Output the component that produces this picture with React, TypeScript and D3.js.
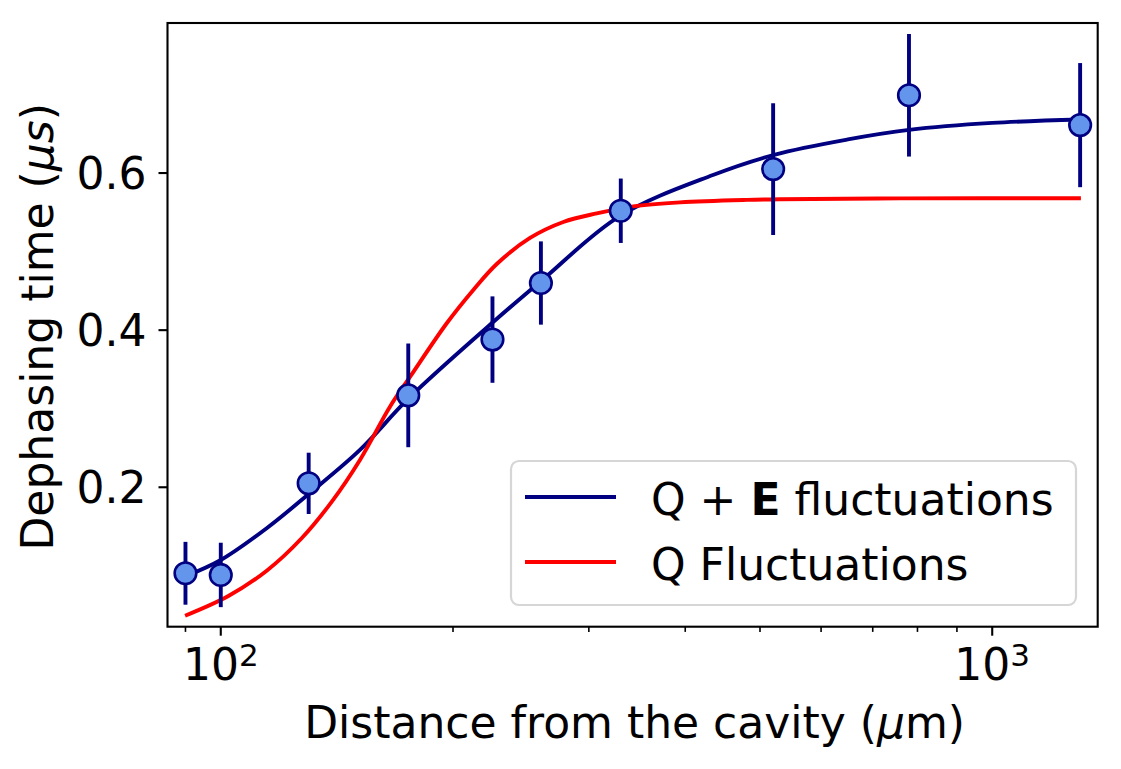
import React, { useEffect, useRef } from 'react';
import * as d3 from 'd3';

// measured points (distance in µm, dephasing time in µs)
const distances = [90, 100, 130, 175, 225, 260, 330, 520, 780, 1300];
const dephasing = [0.0905, 0.0884, 0.205, 0.317, 0.388, 0.460, 0.552, 0.605, 0.699, 0.661];
const errors = [0.040, 0.041, 0.039, 0.066, 0.055, 0.053, 0.041, 0.084, 0.078, 0.079];

// Q + E fluctuations fit
const fitQEx = [90.2, 100, 114.8, 130.5, 151.5, 175.4, 225.5, 260.2, 329.3, 434.5, 523, 650, 780, 1000, 1300];
const fitQEy = [0.0871, 0.1074, 0.1482, 0.1928, 0.2475, 0.3137, 0.4104, 0.4626, 0.5454, 0.5975, 0.6235, 0.6428, 0.6549, 0.6638, 0.6682];

// Q fluctuations only
const fitQx = [89.9, 102.3, 114.7, 127.3, 139.3, 151.5, 165.7, 176, 196.3, 212.5, 227.9, 251.7, 278, 307.1, 342.5, 393.8, 480.6, 530.8, 760, 1303];
const fitQy = [0.0365, 0.0616, 0.0938, 0.1351, 0.1817, 0.2348, 0.3026, 0.3408, 0.4088, 0.4512, 0.4842, 0.5174, 0.5377, 0.5486, 0.5575, 0.5626, 0.5658, 0.5666, 0.5677, 0.5679];

const yTicks = [0.2, 0.4, 0.6];
const xMajorTicks = [100, 1000];
const xMinorTicks = [90, 200, 300, 400, 500, 600, 700, 800, 900];

const legendLabels = ['Q + ', 'E', ' fluctuations'];
const legendLabel2 = 'Q Fluctuations';

const NAVY = '#000080';
const RED = '#ff0000';
const FONT = '"DejaVu Sans", sans-serif';

const DephasingChart: React.FC = () => {
  const ref = useRef<SVGSVGElement | null>(null);
  const width = 1121;
  const height = 769;
  const margin = { left: 167.5, right: 1097.7, top: 23, bottom: 626.7 };

  useEffect(() => {
    if (!ref.current) return;
    const svg = d3.select(ref.current).html('');

    const x = d3.scaleLog().domain([85.3, 1370]).range([margin.left, margin.right]);
    const y = d3.scaleLinear().domain([0.0225, 0.791]).range([margin.bottom, margin.top]);

    const line = d3
      .line<[number, number]>()
      .x((d) => x(d[0]))
      .y((d) => y(d[1]))
      .curve(d3.curveCatmullRom.alpha(0.5));

    const qe = fitQEx.map((v, i) => [v, fitQEy[i]] as [number, number]);
    const q = fitQx.map((v, i) => [v, fitQy[i]] as [number, number]);

    svg.append('path').attr('d', line(qe)!).attr('fill', 'none').attr('stroke', NAVY).attr('stroke-width', 3.9);
    svg.append('path').attr('d', line(q)!).attr('fill', 'none').attr('stroke', RED).attr('stroke-width', 3.9);

    // error bars
    svg
      .selectAll('.err')
      .data(distances)
      .enter()
      .append('line')
      .attr('x1', (d) => x(d))
      .attr('x2', (d) => x(d))
      .attr('y1', (_, i) => y(dephasing[i] - errors[i]))
      .attr('y2', (_, i) => y(dephasing[i] + errors[i]))
      .attr('stroke', NAVY)
      .attr('stroke-width', 3.9);

    svg
      .selectAll('.pt')
      .data(distances)
      .enter()
      .append('circle')
      .attr('cx', (d) => x(d))
      .attr('cy', (_, i) => y(dephasing[i]))
      .attr('r', 10.8)
      .attr('fill', '#6495ED')
      .attr('stroke', NAVY)
      .attr('stroke-width', 2.6);

    // frame
    svg
      .append('rect')
      .attr('x', margin.left)
      .attr('y', margin.top)
      .attr('width', margin.right - margin.left)
      .attr('height', margin.bottom - margin.top)
      .attr('fill', 'none')
      .attr('stroke', 'black')
      .attr('stroke-width', 2.1);

    // y ticks
    const yt = svg.append('g');
    yTicks.forEach((t) => {
      yt.append('line')
        .attr('x1', margin.left - 9)
        .attr('x2', margin.left)
        .attr('y1', y(t))
        .attr('y2', y(t))
        .attr('stroke', 'black')
        .attr('stroke-width', 2.1);
      yt.append('text')
        .attr('x', margin.left - 21)
        .attr('y', y(t) + 16)
        .attr('text-anchor', 'end')
        .attr('font-family', FONT)
        .attr('font-size', 44)
        .text(t.toFixed(1));
    });

    // x ticks
    const xt = svg.append('g');
    xMinorTicks.forEach((t) => {
      xt.append('line')
        .attr('x1', x(t))
        .attr('x2', x(t))
        .attr('y1', margin.bottom)
        .attr('y2', margin.bottom + 5.2)
        .attr('stroke', 'black')
        .attr('stroke-width', 1.6);
    });
    xMajorTicks.forEach((t) => {
      xt.append('line')
        .attr('x1', x(t))
        .attr('x2', x(t))
        .attr('y1', margin.bottom)
        .attr('y2', margin.bottom + 9)
        .attr('stroke', 'black')
        .attr('stroke-width', 2.1);
      const lbl = xt
        .append('text')
        .attr('x', x(t))
        .attr('y', 680)
        .attr('text-anchor', 'middle')
        .attr('font-family', FONT)
        .attr('font-size', 44);
      lbl.append('tspan').text('10');
      lbl
        .append('tspan')
        .attr('font-size', 31)
        .attr('dy', -14)
        .text(String(Math.round(Math.log10(t))));
    });

    // axis labels
    const xl = svg
      .append('text')
      .attr('x', (margin.left + margin.right) / 2 + 2)
      .attr('y', 738)
      .attr('text-anchor', 'middle')
      .attr('font-family', FONT)
      .attr('font-size', 44);
    xl.append('tspan').text('Distance from the cavity (');
    xl.append('tspan').attr('font-style', 'italic').text('μ');
    xl.append('tspan').text('m)');

    const yl = svg
      .append('text')
      .attr('transform', `translate(53, ${(margin.top + margin.bottom) / 2 + 2}) rotate(-90)`)
      .attr('text-anchor', 'middle')
      .attr('font-family', FONT)
      .attr('font-size', 44);
    yl.append('tspan').text('Dephasing time (');
    yl.append('tspan').attr('font-style', 'italic').text('μs');
    yl.append('tspan').text(')');

    // legend
    const lg = svg.append('g');
    lg.append('rect')
      .attr('x', 511)
      .attr('y', 461)
      .attr('width', 565)
      .attr('height', 144)
      .attr('rx', 8)
      .attr('fill', 'white')
      .attr('fill-opacity', 0.8)
      .attr('stroke', '#d6d6d6')
      .attr('stroke-width', 2.2);
    lg.append('line').attr('x1', 525).attr('x2', 616).attr('y1', 497).attr('y2', 497).attr('stroke', NAVY).attr('stroke-width', 3.9);
    lg.append('line').attr('x1', 525).attr('x2', 616).attr('y1', 562).attr('y2', 562).attr('stroke', RED).attr('stroke-width', 3.9);
    const t1 = lg.append('text').attr('x', 651).attr('y', 515).attr('font-family', FONT).attr('font-size', 44);
    t1.append('tspan').text(legendLabels[0]);
    t1.append('tspan').attr('font-weight', 'bold').text(legendLabels[1]);
    t1.append('tspan').text(legendLabels[2]);
    lg.append('text').attr('x', 651).attr('y', 580).attr('font-family', FONT).attr('font-size', 44).text(legendLabel2);
  }, []);

  return <svg ref={ref} width={width} height={height} style={{ display: 'block' }} />;
};

export default function App() {
  return (
    <div style={{ position: 'absolute', left: 0, top: 0, background: 'white' }}>
      <DephasingChart />
    </div>
  );
}
